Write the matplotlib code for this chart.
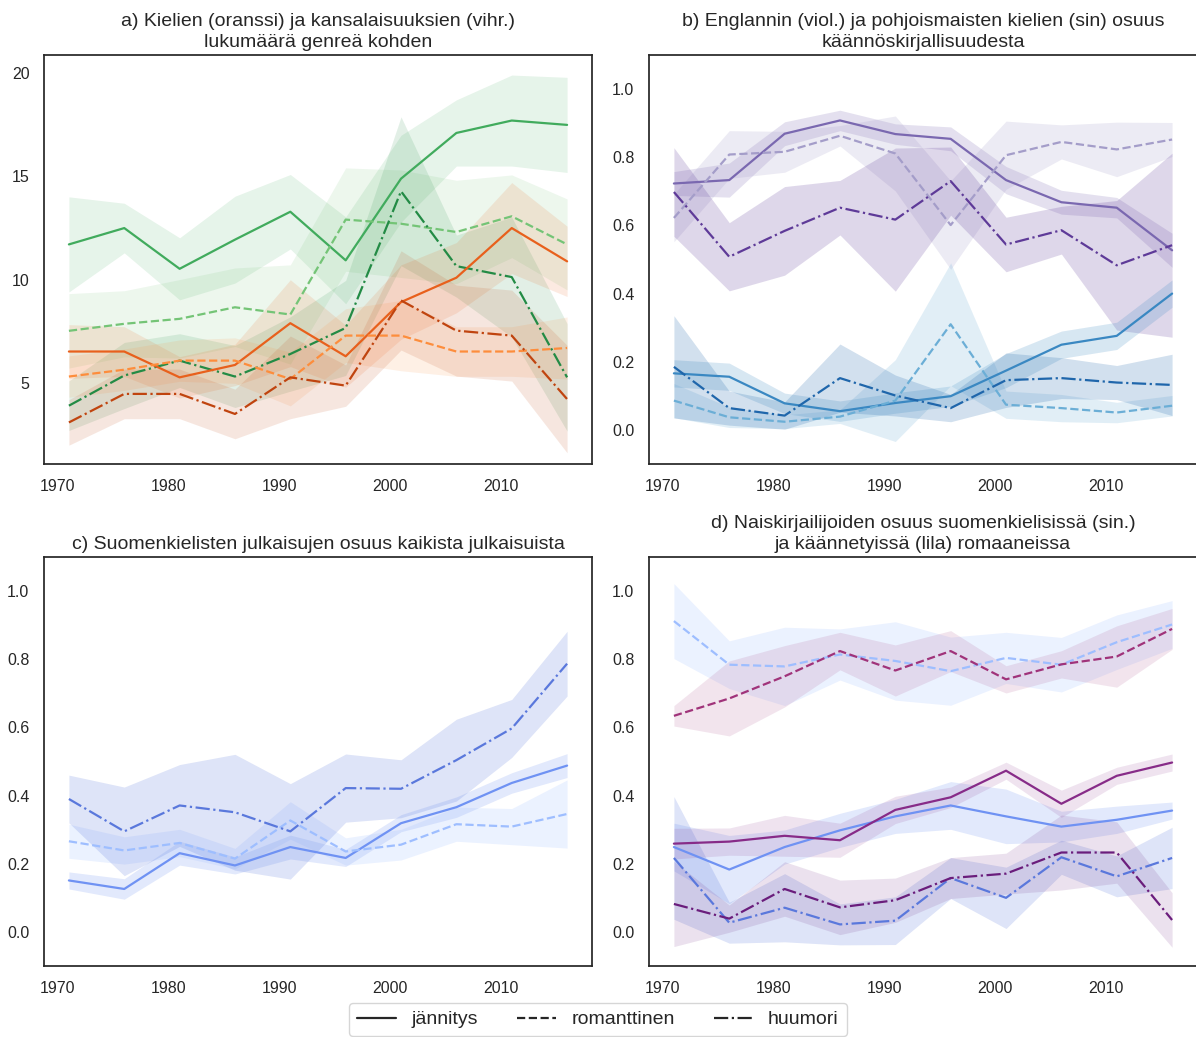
import matplotlib
matplotlib.use('Agg')
import matplotlib.pyplot as plt
from matplotlib.lines import Line2D
import numpy as np
import seaborn as sns

sns.set_style('white')
plt.rcParams['font.family'] = ['Liberation Sans', 'DejaVu Sans']

years = [1971, 1976, 1981, 1986, 1991, 1996, 2001, 2006, 2011, 2016]
genres = ['jännitys', 'romanttinen', 'huumori']
styles = ['-', '--', '-.']

# a) kansalaisuudet (vihr.) ja kielet (oranssi) genreä kohden
kans_jannitys = [11.70, 12.49, 10.52, 11.93, 13.28, 10.93, 14.88, 17.09, 17.69, 17.48]
kans_jannitys_ci = [2.3, 1.2, 1.5, 2.1, 1.8, 2.1, 2.1, 1.6, 2.2, 2.3]
kans_romant = [7.52, 7.86, 8.10, 8.66, 8.31, 12.90, 12.70, 12.30, 13.06, 11.70]
kans_romant_ci = [1.8, 1.6, 1.9, 1.9, 2.4, 2.5, 2.6, 2.5, 2.0, 2.2]
kans_huumori = [3.90, 5.36, 6.08, 5.31, 6.40, 7.66, 14.27, 10.65, 10.12, 5.27]
kans_huumori_ci = [1.2, 1.6, 1.3, 1.5, 1.8, 2.3, 3.6, 1.5, 2.9, 2.6]
kiel_jannitys = [6.52, 6.52, 5.27, 5.87, 7.89, 6.29, 8.91, 10.09, 12.49, 10.88]
kiel_jannitys_ci = [1.3, 1.2, 1.0, 1.0, 2.1, 1.5, 1.8, 1.7, 2.2, 1.7]
kiel_romant = [5.31, 5.64, 6.08, 6.08, 5.19, 7.29, 7.29, 6.52, 6.52, 6.69]
kiel_romant_ci = [1.0, 1.0, 1.0, 1.1, 1.3, 1.3, 1.7, 1.2, 1.2, 1.5]
kiel_huumori = [3.09, 4.47, 4.47, 3.50, 5.27, 4.87, 8.99, 7.53, 7.29, 4.22]
kiel_huumori_ci = [1.1, 1.2, 1.2, 1.2, 2.0, 1.0, 2.4, 2.2, 2.2, 2.6]

# b) englannin (viol.) ja pohjoismaisten kielten (sin.) osuus
eng_jannitys = [0.723, 0.733, 0.869, 0.908, 0.868, 0.854, 0.733, 0.668, 0.652, 0.527]
eng_jannitys_ci = [0.035, 0.05, 0.035, 0.03, 0.03, 0.035, 0.04, 0.035, 0.03, 0.05]
eng_romant = [0.622, 0.808, 0.816, 0.863, 0.811, 0.601, 0.806, 0.845, 0.823, 0.852]
eng_romant_ci = [0.07, 0.07, 0.06, 0.03, 0.11, 0.13, 0.10, 0.05, 0.08, 0.05]
eng_huumori = [0.698, 0.508, 0.584, 0.652, 0.617, 0.730, 0.544, 0.586, 0.483, 0.542]
eng_huumori_ci = [0.13, 0.10, 0.13, 0.08, 0.21, 0.10, 0.08, 0.07, 0.19, 0.27]
pohj_jannitys = [0.166, 0.156, 0.078, 0.055, 0.079, 0.099, 0.174, 0.250, 0.276, 0.400]
pohj_jannitys_ci = [0.04, 0.04, 0.03, 0.03, 0.03, 0.03, 0.05, 0.04, 0.04, 0.04]
pohj_romant = [0.086, 0.037, 0.024, 0.039, 0.086, 0.310, 0.074, 0.064, 0.051, 0.071]
pohj_romant_ci = [0.05, 0.03, 0.02, 0.02, 0.12, 0.18, 0.04, 0.04, 0.03, 0.03]
pohj_huumori = [0.185, 0.064, 0.042, 0.152, 0.101, 0.064, 0.146, 0.152, 0.139, 0.132]
pohj_huumori_ci = [0.15, 0.05, 0.04, 0.10, 0.06, 0.04, 0.08, 0.06, 0.05, 0.09]

# c) suomenkielisten julkaisujen osuus
suomi_jannitys = [0.151, 0.126, 0.231, 0.195, 0.249, 0.217, 0.319, 0.366, 0.437, 0.488]
suomi_jannitys_ci = [0.025, 0.03, 0.035, 0.025, 0.035, 0.025, 0.025, 0.03, 0.03, 0.035]
suomi_romant = [0.266, 0.239, 0.261, 0.215, 0.327, 0.236, 0.256, 0.316, 0.309, 0.346]
suomi_romant_ci = [0.05, 0.04, 0.04, 0.03, 0.055, 0.04, 0.045, 0.05, 0.053, 0.10]
suomi_huumori = [0.390, 0.295, 0.371, 0.351, 0.295, 0.422, 0.420, 0.504, 0.597, 0.787]
suomi_huumori_ci = [0.07, 0.13, 0.12, 0.17, 0.14, 0.10, 0.085, 0.12, 0.085, 0.095]

# d) naiskirjailijoiden osuus: suomenkieliset (sin.) ja käännetyt (lila)
nais_suomi_jannitys = [0.249, 0.183, 0.249, 0.298, 0.339, 0.371, 0.339, 0.309, 0.329, 0.356]
nais_suomi_jannitys_ci = [0.07, 0.10, 0.05, 0.05, 0.05, 0.07, 0.08, 0.045, 0.04, 0.025]
nais_suomi_romant = [0.912, 0.784, 0.779, 0.814, 0.795, 0.765, 0.804, 0.784, 0.850, 0.902]
nais_suomi_romant_ci = [0.11, 0.07, 0.115, 0.075, 0.115, 0.10, 0.075, 0.08, 0.08, 0.07]
nais_suomi_huumori = [0.217, 0.027, 0.071, 0.022, 0.033, 0.158, 0.100, 0.219, 0.163, 0.217]
nais_suomi_huumori_ci = [0.18, 0.06, 0.10, 0.06, 0.07, 0.06, 0.09, 0.05, 0.06, 0.09]
nais_kaann_jannitys = [0.259, 0.265, 0.282, 0.269, 0.358, 0.395, 0.473, 0.376, 0.458, 0.497]
nais_kaann_jannitys_ci = [0.045, 0.04, 0.06, 0.05, 0.04, 0.03, 0.025, 0.04, 0.025, 0.025]
nais_kaann_romant = [0.634, 0.685, 0.750, 0.824, 0.767, 0.824, 0.741, 0.785, 0.808, 0.889]
nais_kaann_romant_ci = [0.03, 0.11, 0.09, 0.055, 0.075, 0.06, 0.04, 0.04, 0.09, 0.06]
nais_kaann_huumori = [0.082, 0.039, 0.126, 0.072, 0.093, 0.158, 0.171, 0.233, 0.233, 0.035]
nais_kaann_huumori_ci = [0.125, 0.04, 0.08, 0.08, 0.065, 0.06, 0.06, 0.11, 0.09, 0.08]

titles = [
    'a) Kielien (oranssi) ja kansalaisuuksien (vihr.)\nlukumäärä genreä kohden',
    'b) Englannin (viol.) ja pohjoismaisten kielien (sin) osuus\nkäännöskirjallisuudesta',
    'c) Suomenkielisten julkaisujen osuus kaikista julkaisuista',
    'd) Naiskirjailijoiden osuus suomenkielisissä (sin.)\nja käännetyissä (lila) romaaneissa',
]

greens = ['#41ab5d', '#74c476', '#238b45']
oranges = ['#e8601c', '#fd8d3c', '#c0440f']
purples = ['#7a68b0', '#a49dc9', '#5e3a98']
blues = ['#3a88c2', '#6baed6', '#1f66ab']
royal = ['#6f92f3', '#9ebeff', '#5a78dc']
plums = ['#872b88', '#a0337a', '#6a1d7c']


def draw(ax, mean, ci, color, ls, alpha=0.2):
    mean = np.array(mean)
    ci = np.array(ci)
    ax.fill_between(years, mean - ci, mean + ci, color=color, alpha=alpha, linewidth=0)
    ax.plot(years, mean, color=color, linestyle=ls, linewidth=1.6)


fig = plt.figure(figsize=(11.96, 10.37), dpi=100)
W, H = 1196, 1037
boxes = [(44, 55), (649, 55), (44, 557), (649, 557)]
axes = []
for (l, t) in boxes:
    axes.append(fig.add_axes([l / W, 1 - (t + 409) / H, 548 / W, 409 / H]))

ax = axes[0]
for vals, ci, c, ls in zip([kans_jannitys, kans_romant, kans_huumori],
                           [kans_jannitys_ci, kans_romant_ci, kans_huumori_ci], greens, styles):
    draw(ax, vals, ci, c, ls, alpha=0.13)
for vals, ci, c, ls in zip([kiel_jannitys, kiel_romant, kiel_huumori],
                           [kiel_jannitys_ci, kiel_romant_ci, kiel_huumori_ci], oranges, styles):
    draw(ax, vals, ci, c, ls, alpha=0.13)
ax.set_ylim(1.08, 20.86)
ax.set_yticks([5, 10, 15, 20])

ax = axes[1]
for vals, ci, c, ls in zip([eng_jannitys, eng_romant, eng_huumori],
                           [eng_jannitys_ci, eng_romant_ci, eng_huumori_ci], purples, styles):
    draw(ax, vals, ci, c, ls)
for vals, ci, c, ls in zip([pohj_jannitys, pohj_romant, pohj_huumori],
                           [pohj_jannitys_ci, pohj_romant_ci, pohj_huumori_ci], blues, styles):
    draw(ax, vals, ci, c, ls)

ax = axes[2]
for vals, ci, c, ls in zip([suomi_jannitys, suomi_romant, suomi_huumori],
                           [suomi_jannitys_ci, suomi_romant_ci, suomi_huumori_ci], royal, styles):
    draw(ax, vals, ci, c, ls)

ax = axes[3]
for vals, ci, c, ls in zip([nais_suomi_jannitys, nais_suomi_romant, nais_suomi_huumori],
                           [nais_suomi_jannitys_ci, nais_suomi_romant_ci, nais_suomi_huumori_ci], royal, styles):
    draw(ax, vals, ci, c, ls)
for vals, ci, c, ls in zip([nais_kaann_jannitys, nais_kaann_romant, nais_kaann_huumori],
                           [nais_kaann_jannitys_ci, nais_kaann_romant_ci, nais_kaann_huumori_ci], plums, styles):
    draw(ax, vals, ci, c, ls, alpha=0.13)

for i, ax in enumerate(axes):
    ax.set_title(titles[i], fontsize=14, color='.15', pad=6, linespacing=1.32)
    ax.set_xlim(1968.75, 2018.25)
    ax.set_xticks([1970, 1980, 1990, 2000, 2010])
    if i > 0:
        ax.set_ylim(-0.1, 1.1)
        ax.set_yticks([0.0, 0.2, 0.4, 0.6, 0.8, 1.0])
    ax.tick_params(labelsize=11.5, colors='.15', pad=7)
    for s in ax.spines.values():
        s.set_color('.15')
        s.set_linewidth(1.25)

handles = [Line2D([0], [0], color='.15', linestyle=ls, linewidth=1.6) for ls in styles]
fig.legend(handles, genres, loc='upper center', bbox_to_anchor=(0.5, 1 - 1003 / H),
           ncol=3, fontsize=14, frameon=True, edgecolor='.8', borderaxespad=0)

fig.savefig('out.png', dpi=100)
